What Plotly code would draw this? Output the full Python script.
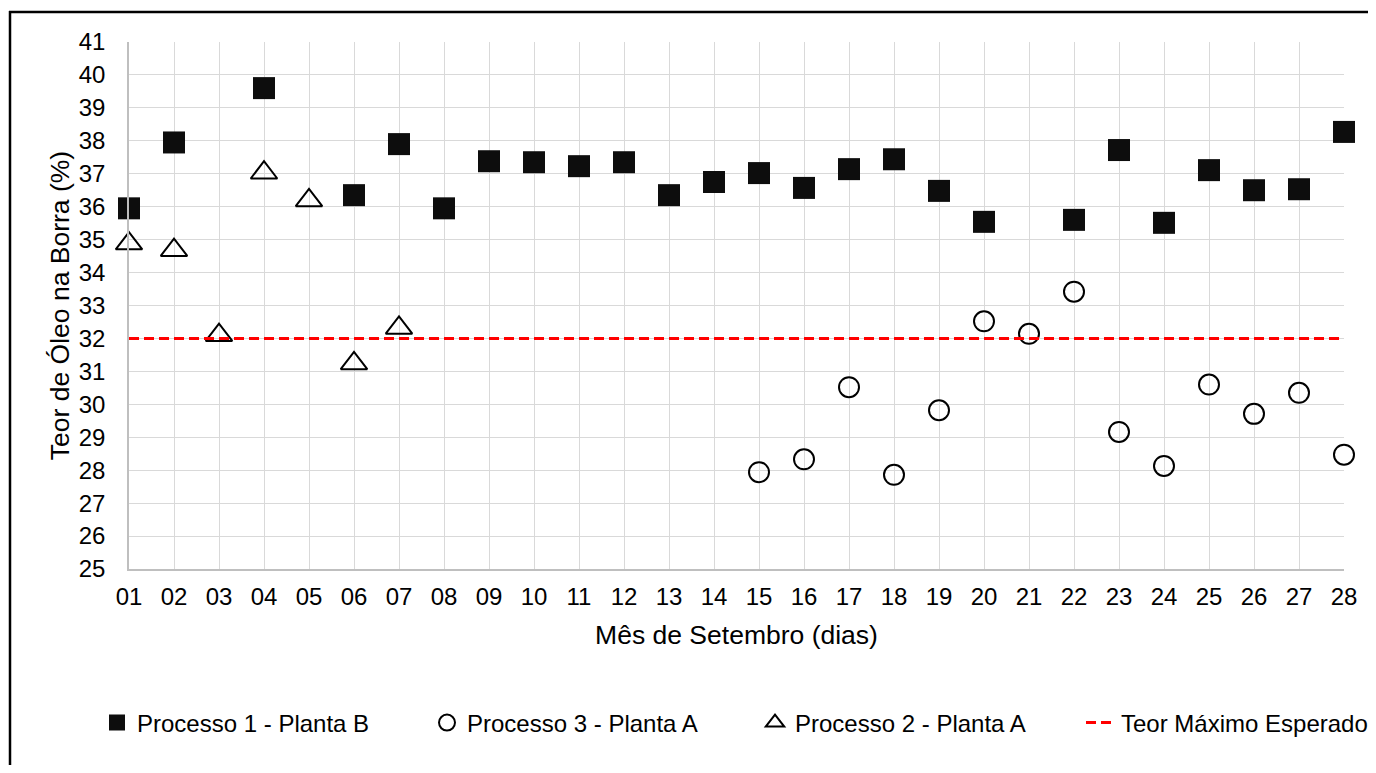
import plotly.graph_objects as go

dias = ["01", "02", "03", "04", "05", "06", "07", "08", "09", "10", "11", "12", "13", "14",
        "15", "16", "17", "18", "19", "20", "21", "22", "23", "24", "25", "26", "27", "28"]

processo1_planta_b = [35.95, 37.95, None, 39.60, None, 36.35, 37.90, 35.95, 37.38, 37.35,
                      37.23, 37.35, 36.35, 36.75, 37.02, 36.57, 37.14, 37.44, 36.48, 35.54,
                      None, 35.60, 37.72, 35.51, 37.11, 36.50, 36.53, 38.27]

processo3_planta_a = [None, None, None, None, None, None, None, None, None, None,
                      None, None, None, None, 27.94, 28.33, 30.52, 27.86, 29.82, 32.52,
                      32.14, 33.42, 29.16, 28.13, 30.60, 29.71, 30.35, 28.47]

processo2_planta_a = [34.88, 34.68, 32.10, 37.03, 36.19, 31.24, 32.32, None, None, None,
                      None, None, None, None, None, None, None, None, None, None,
                      None, None, None, None, None, None, None, None]

teor_maximo = [32] * len(dias)

y_ticks = list(range(25, 42))

FONT = "Liberation Sans, Arial, sans-serif"
FS = 24
FS_TITLE = 26.5

# page offset (body margin of the html page)
OFF = 8
W, H = 1376 - 2 * OFF, 773 - 2 * OFF
L, T = 129 - OFF, 42 - OFF
R = (W + OFF) - 1344
B = (H + OFF) - 569
pw = W - L - R
ph = H - T - B


def px_x(px):
    return (px - OFF - L) / pw


def px_y(py):
    return (H - B - (py - OFF)) / ph


fig = go.Figure()
fig.add_trace(go.Scatter(
    x=dias, y=processo1_planta_b, mode="markers", name="Processo 1 - Planta B",
    marker=dict(symbol="square", size=22, color="#0d0d0d", line=dict(width=0)),
    cliponaxis=False, legend="legend"))
fig.add_trace(go.Scatter(
    x=dias, y=processo3_planta_a, mode="markers", name="Processo 3 - Planta A",
    marker=dict(symbol="circle-open", size=20, color="#000000", line=dict(width=2)),
    cliponaxis=False, legend="legend2"))
fig.add_trace(go.Scatter(
    x=dias, y=processo2_planta_a, mode="markers", name="Processo 2 - Planta A",
    marker=dict(symbol="triangle-up-open", size=23, color="#000000", line=dict(width=2)),
    cliponaxis=False, legend="legend3"))
fig.add_trace(go.Scatter(
    x=dias, y=teor_maximo, mode="lines", name="Teor Máximo Esperado",
    line=dict(color="#ff0000", width=3, dash="10px,5px"),
    cliponaxis=False, legend="legend4"))


def leg(xpx):
    return dict(
        orientation="h", x=px_x(xpx), xanchor="left", y=px_y(723), yanchor="middle",
        font=dict(family=FONT, size=FS, color="#000000"),
        bgcolor="rgba(0,0,0,0)", borderwidth=0,
    )


frame_style = dict(color="#000000", width=2.5)

fig.update_layout(
    width=W, height=H,
    margin=dict(l=L, r=R, t=T, b=B, autoexpand=False),
    paper_bgcolor="white", plot_bgcolor="white",
    font=dict(family=FONT, size=FS, color="#000000"),
    showlegend=True,
    legend=leg(97), legend2=leg(427), legend3=leg(755), legend4=leg(1081),
    xaxis=dict(
        type="category", categoryorder="array", categoryarray=dias,
        range=[0, len(dias) - 1], automargin=False,
        showgrid=True, gridcolor="#d9d9d9", gridwidth=1.3,
        showline=True, linecolor="#bfbfbf", linewidth=1.5,
        ticks="", ticklabelstandoff=5,
        tickfont=dict(family=FONT, size=FS, color="#000000"),
        title=dict(text="Mês de Setembro (dias)", standoff=17,
                   font=dict(family=FONT, size=FS_TITLE, color="#000000")),
        zeroline=False, fixedrange=True,
    ),
    yaxis=dict(
        range=[25, 41], tickmode="array", tickvals=y_ticks, automargin=False,
        ticktext=[str(v) for v in y_ticks],
        showgrid=True, gridcolor="#d9d9d9", gridwidth=1.3,
        showline=True, linecolor="#bfbfbf", linewidth=1.5,
        ticks="", ticklabelstandoff=17,
        tickfont=dict(family=FONT, size=FS, color="#000000"),
        title=dict(text="Teor de Óleo na Borra (%)", standoff=1,
                   font=dict(family=FONT, size=FS_TITLE, color="#000000")),
        zeroline=False, fixedrange=True,
    ),
    shapes=[
        dict(type="line", xref="paper", yref="paper",
             x0=px_x(10), x1=px_x(10), y0=px_y(800), y1=px_y(11),
             line=frame_style, layer="above"),
        dict(type="line", xref="paper", yref="paper",
             x0=px_x(9), x1=px_x(1400), y0=px_y(12), y1=px_y(12),
             line=frame_style, layer="above"),
    ],
)

fig.write_html("out.html")
